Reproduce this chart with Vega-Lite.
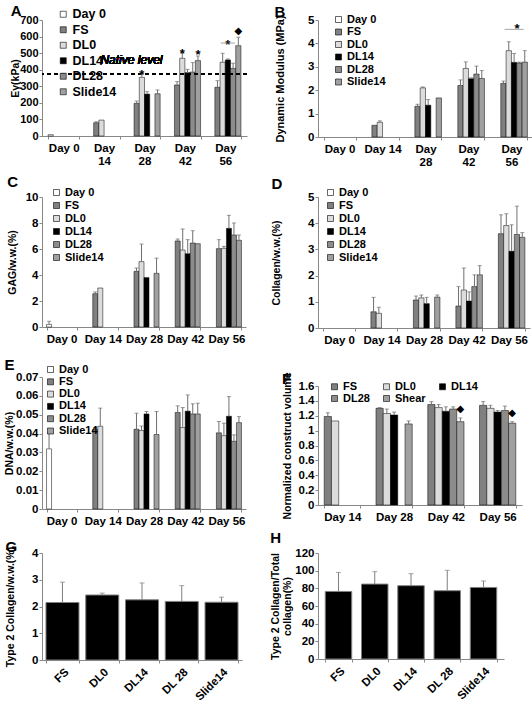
{
"$schema":"https://vega.github.io/schema/vega-lite/v6.json",
"background":"white",
"padding":{"left":4,"top":4,"right":0,"bottom":0},
"spacing":22,
"resolve":{"scale":{"x":"independent","y":"independent","color":"independent","xOffset":"independent"},"legend":{"color":"independent"}},
"datasets":{
"A":[
{"day":"Day 0","grp":"Day 0","v":8,"e":null},
{"day":"Day 14","grp":"FS","v":80,"e":86},
{"day":"Day 14","grp":"DL0","v":96,"e":null},
{"day":"Day 28","grp":"FS","v":197,"e":211},
{"day":"Day 28","grp":"DL0","v":354,"e":374},
{"day":"Day 28","grp":"DL14","v":253,"e":268},
{"day":"Day 28","grp":"Slide14","v":255,"e":278},
{"day":"Day 42","grp":"FS","v":308,"e":328},
{"day":"Day 42","grp":"DL0","v":469,"e":503},
{"day":"Day 42","grp":"DL14","v":382,"e":402},
{"day":"Day 42","grp":"DL28","v":386,"e":443},
{"day":"Day 42","grp":"Slide14","v":455,"e":483},
{"day":"Day 56","grp":"FS","v":294,"e":334},
{"day":"Day 56","grp":"DL0","v":445,"e":499},
{"day":"Day 56","grp":"DL14","v":459,"e":465},
{"day":"Day 56","grp":"DL28","v":408,"e":439},
{"day":"Day 56","grp":"Slide14","v":545,"e":596}],
"Astar":[
{"day":"Day 28","grp":"DL0","y":371,"t":"*"},
{"day":"Day 42","grp":"DL0","y":492,"t":"*"},
{"day":"Day 42","grp":"Slide14","y":486,"t":"*"},
{"day":"Day 56","grp":"DL14","y":552,"t":"*"}],
"Adia":[{"day":"Day 56","grp":"Slide14","y":634,"t":"◆"}],
"Aline":[{"day":"Day 56","grp":"DL14","y":561}],
"B":[
{"day":"Day 14","grp":"FS","v":0.5,"e":null},
{"day":"Day 14","grp":"DL0","v":0.63,"e":0.69},
{"day":"Day 28","grp":"FS","v":1.31,"e":1.4},
{"day":"Day 28","grp":"DL0","v":2.1,"e":2.14},
{"day":"Day 28","grp":"DL14","v":1.36,"e":1.6},
{"day":"Day 28","grp":"Slide14","v":1.67,"e":null},
{"day":"Day 42","grp":"FS","v":2.2,"e":2.44},
{"day":"Day 42","grp":"DL0","v":2.93,"e":3.21},
{"day":"Day 42","grp":"DL14","v":2.49,"e":2.53},
{"day":"Day 42","grp":"DL28","v":2.69,"e":3.03},
{"day":"Day 42","grp":"Slide14","v":2.5,"e":2.84},
{"day":"Day 56","grp":"FS","v":2.29,"e":2.39},
{"day":"Day 56","grp":"DL0","v":3.69,"e":4.07},
{"day":"Day 56","grp":"DL14","v":3.19,"e":3.57},
{"day":"Day 56","grp":"DL28","v":3.16,"e":3.2},
{"day":"Day 56","grp":"Slide14","v":3.2,"e":3.69}],
"Bstar":[{"day":"Day 56","grp":"DL14","y":4.63,"t":"*"}],
"Bline":[{"day":"Day 56","grp":"DL14","y":4.6}],
"C":[
{"day":"Day 0","grp":"Day 0","v":0.2,"e":0.44},
{"day":"Day 14","grp":"FS","v":2.56,"e":2.7},
{"day":"Day 14","grp":"DL0","v":3.0,"e":null},
{"day":"Day 28","grp":"FS","v":4.28,"e":4.54},
{"day":"Day 28","grp":"DL0","v":5.03,"e":6.38},
{"day":"Day 28","grp":"DL14","v":3.8,"e":null},
{"day":"Day 28","grp":"Slide14","v":4.13,"e":5.3},
{"day":"Day 42","grp":"FS","v":6.62,"e":6.77},
{"day":"Day 42","grp":"DL0","v":5.92,"e":7.54},
{"day":"Day 42","grp":"DL14","v":5.64,"e":6.72},
{"day":"Day 42","grp":"DL28","v":6.46,"e":7.41},
{"day":"Day 42","grp":"Slide14","v":6.41,"e":null},
{"day":"Day 56","grp":"FS","v":6.03,"e":6.72},
{"day":"Day 56","grp":"DL0","v":6.05,"e":6.2},
{"day":"Day 56","grp":"DL14","v":7.59,"e":8.59},
{"day":"Day 56","grp":"DL28","v":7.08,"e":8.0},
{"day":"Day 56","grp":"Slide14","v":6.67,"e":7.08}],
"D":[
{"day":"Day 14","grp":"FS","v":0.62,"e":1.17},
{"day":"Day 14","grp":"DL0","v":0.56,"e":0.79},
{"day":"Day 28","grp":"FS","v":1.07,"e":1.22},
{"day":"Day 28","grp":"DL0","v":1.15,"e":1.26},
{"day":"Day 28","grp":"DL14","v":0.93,"e":1.17},
{"day":"Day 28","grp":"Slide14","v":1.18,"e":1.26},
{"day":"Day 42","grp":"FS","v":0.84,"e":1.58},
{"day":"Day 42","grp":"DL0","v":1.45,"e":2.29},
{"day":"Day 42","grp":"DL14","v":1.03,"e":1.38},
{"day":"Day 42","grp":"DL28","v":1.58,"e":2.03},
{"day":"Day 42","grp":"Slide14","v":2.03,"e":2.38},
{"day":"Day 56","grp":"FS","v":3.6,"e":4.32},
{"day":"Day 56","grp":"DL0","v":3.91,"e":4.36},
{"day":"Day 56","grp":"DL14","v":2.93,"e":3.94},
{"day":"Day 56","grp":"DL28","v":3.57,"e":4.65},
{"day":"Day 56","grp":"Slide14","v":3.46,"e":3.64}],
"E":[
{"day":"Day 0","grp":"Day 0","v":0.0319,"e":0.040},
{"day":"Day 14","grp":"FS","v":0.0423,"e":0.0432},
{"day":"Day 14","grp":"DL0","v":0.0439,"e":0.0535},
{"day":"Day 28","grp":"FS","v":0.0423,"e":0.0508},
{"day":"Day 28","grp":"DL0","v":0.0416,"e":0.044},
{"day":"Day 28","grp":"DL14","v":0.0504,"e":0.0517},
{"day":"Day 28","grp":"Slide14","v":0.0395,"e":0.0517},
{"day":"Day 42","grp":"FS","v":0.0512,"e":0.0547},
{"day":"Day 42","grp":"DL0","v":0.0432,"e":0.0538},
{"day":"Day 42","grp":"DL14","v":0.0519,"e":0.0605},
{"day":"Day 42","grp":"DL28","v":0.0504,"e":0.0558},
{"day":"Day 42","grp":"Slide14","v":0.0504,"e":0.0561},
{"day":"Day 56","grp":"FS","v":0.0404,"e":0.0464},
{"day":"Day 56","grp":"DL0","v":0.0389,"e":0.0455},
{"day":"Day 56","grp":"DL14","v":0.0492,"e":0.0596},
{"day":"Day 56","grp":"DL28","v":0.0359,"e":0.0393},
{"day":"Day 56","grp":"Slide14","v":0.0458,"e":0.049}],
"F":[
{"day":"Day 14","grp":"FS","v":1.19,"e":1.24},
{"day":"Day 14","grp":"DL0","v":1.13,"e":null},
{"day":"Day 28","grp":"FS","v":1.3,"e":1.31},
{"day":"Day 28","grp":"DL0","v":1.23,"e":1.29},
{"day":"Day 28","grp":"DL14","v":1.21,"e":1.25},
{"day":"Day 28","grp":"Shear","v":1.09,"e":1.13},
{"day":"Day 42","grp":"FS","v":1.35,"e":1.39},
{"day":"Day 42","grp":"DL0","v":1.31,"e":1.35},
{"day":"Day 42","grp":"DL14","v":1.26,"e":1.32},
{"day":"Day 42","grp":"DL28","v":1.29,"e":1.32},
{"day":"Day 42","grp":"Shear","v":1.12,"e":1.17},
{"day":"Day 56","grp":"FS","v":1.34,"e":1.39},
{"day":"Day 56","grp":"DL0","v":1.3,"e":1.34},
{"day":"Day 56","grp":"DL14","v":1.25,"e":1.27},
{"day":"Day 56","grp":"DL28","v":1.27,"e":1.33},
{"day":"Day 56","grp":"Shear","v":1.1,"e":1.12}],
"Fdia":[{"day":"Day 42","grp":"Shear","y":1.29,"t":"◆"},{"day":"Day 56","grp":"Shear","y":1.24,"t":"◆"}],
"G":[
{"cat":"FS","v":2.15,"e":2.91},
{"cat":"DL0","v":2.43,"e":2.5},
{"cat":"DL14","v":2.25,"e":2.88},
{"cat":"DL 28","v":2.19,"e":2.78},
{"cat":"Slide14","v":2.16,"e":2.35}],
"H":[
{"cat":"FS","v":76.5,"e":98},
{"cat":"DL0","v":84.8,"e":98.9},
{"cat":"DL14","v":83,"e":96.6},
{"cat":"DL 28","v":77.3,"e":100.4},
{"cat":"Slide14","v":81,"e":88.3}]
},
"hconcat":[
{"vconcat":[
{"title":{"text":"A","offset":-11},"width":205,"height":116,"data":{"name":"A"},
"layer":[
{"mark":{"type":"bar","stroke":"#000","strokeWidth":0.5},
"encoding":{
"x":{"field":"day","type":"nominal","sort":null,"scale":{"domain":["Day 0","Day 14","Day 28","Day 42","Day 56"],"paddingInner":0.225,"paddingOuter":0.15},"axis":{"title":null,"labelExpr":"isValid(datum.value) ? (datum.value == 'Day 0' ? datum.value : split(datum.value, ' ')) : ''"}},
"xOffset":{"field":"grp","type":"nominal","scale":{"domain":["Day 0","FS","DL0","DL14","DL28","Slide14"],"paddingInner":0,"paddingOuter":0}},
"y":{"field":"v","type":"quantitative","scale":{"domain":[0,700],"nice":false},"axis":{"title":"Eγ(kPa)","values":[0,100,200,300,400,500,600,700],"tickCount":50,"format":"d","labelFontSize":11,"titlePadding":-1}},
"color":{"field":"grp","type":"nominal","scale":{"domain":["Day 0","FS","DL0","DL14","DL28","Slide14"],"range":["#ffffff","#808080","#dcdcdc","#000000","#8c8c8c","#a0a0a0"]},"legend":{"orient":"none","legendX":15,"legendY":-12,"labelFontSize":12.5,"rowPadding":2.5}}}},
{"mark":{"type":"rule","strokeDash":[4,3],"strokeWidth":1.2,"color":"#000"},"encoding":{"y":{"datum":374}}},
{"transform":[{"filter":"datum.e != null"}],"mark":{"type":"rule","color":"#6f6f6f"},"encoding":{"x":{"field":"day","type":"nominal"},"xOffset":{"field":"grp","type":"nominal"},"y":{"field":"v","type":"quantitative"},"y2":{"field":"e"}}},
{"transform":[{"filter":"datum.e != null"}],"mark":{"type":"tick","color":"#6f6f6f","thickness":1,"size":4},"encoding":{"x":{"field":"day","type":"nominal"},"xOffset":{"field":"grp","type":"nominal"},"y":{"field":"e","type":"quantitative"}}},
{"mark":{"type":"text","fontStyle":"italic","fontSize":12},"encoding":{"x":{"datum":"Day 28"},"xOffset":{"datum":"Day 0"},"y":{"datum":459},"text":{"value":"Native level"}}},
{"data":{"name":"Astar"},"mark":{"type":"text","fontSize":13,"fontWeight":"bold"},"encoding":{"x":{"field":"day","type":"nominal"},"xOffset":{"field":"grp","type":"nominal"},"y":{"field":"y","type":"quantitative"},"text":{"field":"t"}}},
{"data":{"name":"Adia"},"mark":{"type":"text","fontSize":10,"font":"DejaVu Sans","baseline":"middle"},"encoding":{"x":{"field":"day","type":"nominal"},"xOffset":{"field":"grp","type":"nominal"},"y":{"field":"y","type":"quantitative"},"text":{"field":"t"}}},
{"data":{"name":"Aline"},"mark":{"type":"tick","color":"#7f7f7f","thickness":1,"size":14},"encoding":{"x":{"field":"day","type":"nominal"},"xOffset":{"field":"grp","type":"nominal"},"y":{"field":"y","type":"quantitative"}}}
]},
{"title":{"text":"C","offset":-3},"width":204,"height":130,"data":{"name":"C"},
"layer":[
{"mark":{"type":"bar","stroke":"#000","strokeWidth":0.5},
"encoding":{
"x":{"field":"day","type":"nominal","sort":null,"scale":{"domain":["Day 0","Day 14","Day 28","Day 42","Day 56"],"paddingInner":0.27,"paddingOuter":0.11},"axis":{"title":" ","titleFontSize":5,"titlePadding":0}},
"xOffset":{"field":"grp","type":"nominal","scale":{"domain":["Day 0","FS","DL0","DL14","DL28","Slide14"],"paddingInner":0,"paddingOuter":0}},
"y":{"field":"v","type":"quantitative","scale":{"domain":[0,10],"nice":false},"axis":{"title":"GAG/w.w.(%)","values":[0,2,4,6,8,10],"tickCount":50,"format":"d","titlePadding":8}},
"color":{"field":"grp","type":"nominal","scale":{"domain":["Day 0","FS","DL0","DL14","DL28","Slide14"],"range":["#ffffff","#808080","#dcdcdc","#000000","#8c8c8c","#a0a0a0"]},"legend":{"orient":"none","legendX":9,"legendY":-10}}}},
{"transform":[{"filter":"datum.e != null"}],"mark":{"type":"rule","color":"#6f6f6f"},"encoding":{"x":{"field":"day","type":"nominal"},"xOffset":{"field":"grp","type":"nominal"},"y":{"field":"v","type":"quantitative"},"y2":{"field":"e"}}},
{"transform":[{"filter":"datum.e != null"}],"mark":{"type":"tick","color":"#6f6f6f","thickness":1,"size":4},"encoding":{"x":{"field":"day","type":"nominal"},"xOffset":{"field":"grp","type":"nominal"},"y":{"field":"e","type":"quantitative"}}}
]},
{"title":{"text":"E","offset":-5,"dy":4},"width":204,"height":132,"data":{"name":"E"},
"layer":[
{"mark":{"type":"bar","stroke":"#000","strokeWidth":0.5},
"encoding":{
"x":{"field":"day","type":"nominal","sort":null,"scale":{"domain":["Day 0","Day 14","Day 28","Day 42","Day 56"],"paddingInner":0.27,"paddingOuter":0.11},"axis":{"title":" ","titleFontSize":5,"titlePadding":0}},
"xOffset":{"field":"grp","type":"nominal","scale":{"domain":["Day 0","FS","DL0","DL14","DL28","Slide14"],"paddingInner":0,"paddingOuter":0}},
"y":{"field":"v","type":"quantitative","scale":{"domain":[0,0.07],"nice":false},"axis":{"title":"DNA/w.w.(%)","values":[0,0.01,0.02,0.03,0.04,0.05,0.06,0.07],"tickCount":50,"format":"~g","titlePadding":1}},
"color":{"field":"grp","type":"nominal","scale":{"domain":["Day 0","FS","DL0","DL14","DL28","Slide14"],"range":["#ffffff","#808080","#dcdcdc","#000000","#8c8c8c","#a0a0a0"]},"legend":{"orient":"none","legendX":3,"legendY":-13,"rowPadding":0.3}}}},
{"transform":[{"filter":"datum.e != null"}],"mark":{"type":"rule","color":"#6f6f6f"},"encoding":{"x":{"field":"day","type":"nominal"},"xOffset":{"field":"grp","type":"nominal"},"y":{"field":"v","type":"quantitative"},"y2":{"field":"e"}}},
{"transform":[{"filter":"datum.e != null"}],"mark":{"type":"tick","color":"#6f6f6f","thickness":1,"size":4},"encoding":{"x":{"field":"day","type":"nominal"},"xOffset":{"field":"grp","type":"nominal"},"y":{"field":"e","type":"quantitative"}}}
]},
{"title":{"text":"G","offset":-4,"dy":5},"width":200,"height":107,"data":{"name":"G"},
"layer":[
{"mark":{"type":"bar","color":"#000","stroke":"#808080","strokeWidth":1},
"encoding":{
"x":{"field":"cat","type":"nominal","sort":null,"scale":{"domain":["FS","DL0","DL14","DL 28","Slide14"],"paddingInner":0.17,"paddingOuter":0.1},"axis":{"title":null,"labelAngle":-45}},
"y":{"field":"v","type":"quantitative","scale":{"domain":[0,4],"nice":false},"axis":{"title":"Type 2 Collagen/w.w.(%)","values":[0,1,2,3,4],"tickCount":50,"format":"d","titlePadding":16}}}},
{"mark":{"type":"rule","color":"#7f7f7f"},"encoding":{"x":{"field":"cat","type":"nominal"},"y":{"field":"v","type":"quantitative"},"y2":{"field":"e"}}},
{"mark":{"type":"tick","color":"#7f7f7f","thickness":1,"size":5},"encoding":{"x":{"field":"cat","type":"nominal"},"y":{"field":"e","type":"quantitative"}}}
]}
],"spacing":8,"resolve":{"scale":{"x":"independent","y":"independent","color":"independent","xOffset":"independent"},"legend":{"color":"independent"}}},
{"vconcat":[
{"title":{"text":"B","offset":-5.5},"width":215,"height":117,"data":{"name":"B"},
"layer":[
{"mark":{"type":"bar","stroke":"#000","strokeWidth":0.5},
"encoding":{
"x":{"field":"day","type":"nominal","sort":null,"scale":{"domain":["Day 0","Day 14","Day 28","Day 42","Day 56"],"paddingInner":0.256,"paddingOuter":0.13},"axis":{"title":null,"labelExpr":"isValid(datum.value) ? ((datum.value == 'Day 0' || datum.value == 'Day 14') ? datum.value : split(datum.value, ' ')) : ''"}},
"xOffset":{"field":"grp","type":"nominal","scale":{"domain":["Day 0","FS","DL0","DL14","DL28","Slide14"],"paddingInner":0,"paddingOuter":0}},
"y":{"field":"v","type":"quantitative","scale":{"domain":[0,5],"nice":false},"axis":{"title":"Dynamic Modulus (MPa)","values":[0,1,2,3,4,5],"tickCount":50,"format":"d","titlePadding":22,"titleFontSize":11}},
"color":{"field":"grp","type":"nominal","scale":{"domain":["Day 0","FS","DL0","DL14","DL28","Slide14"],"range":["#ffffff","#808080","#dcdcdc","#000000","#8c8c8c","#a0a0a0"]},"legend":{"orient":"none","legendX":15,"legendY":-6,"rowPadding":0.5}}}},
{"transform":[{"filter":"datum.e != null"}],"mark":{"type":"rule","color":"#6f6f6f"},"encoding":{"x":{"field":"day","type":"nominal"},"xOffset":{"field":"grp","type":"nominal"},"y":{"field":"v","type":"quantitative"},"y2":{"field":"e"}}},
{"transform":[{"filter":"datum.e != null"}],"mark":{"type":"tick","color":"#6f6f6f","thickness":1,"size":4},"encoding":{"x":{"field":"day","type":"nominal"},"xOffset":{"field":"grp","type":"nominal"},"y":{"field":"e","type":"quantitative"}}},
{"data":{"name":"Bstar"},"mark":{"type":"text","fontSize":13,"fontWeight":"bold","dx":3},"encoding":{"x":{"field":"day","type":"nominal"},"xOffset":{"field":"grp","type":"nominal"},"y":{"field":"y","type":"quantitative"},"text":{"field":"t"}}},
{"data":{"name":"Bline"},"mark":{"type":"tick","color":"#7f7f7f","thickness":1,"size":19},"encoding":{"x":{"field":"day","type":"nominal"},"xOffset":{"field":"grp","type":"nominal"},"y":{"field":"y","type":"quantitative"}}}
]},
{"title":{"text":"D","offset":-4.5},"width":212,"height":131,"data":{"name":"D"},
"layer":[
{"mark":{"type":"bar","stroke":"#000","strokeWidth":0.5},
"encoding":{
"x":{"field":"day","type":"nominal","sort":null,"scale":{"domain":["Day 0","Day 14","Day 28","Day 42","Day 56"],"paddingInner":0.25,"paddingOuter":0.12},"axis":{"title":null}},
"xOffset":{"field":"grp","type":"nominal","scale":{"domain":["Day 0","FS","DL0","DL14","DL28","Slide14"],"paddingInner":0,"paddingOuter":0}},
"y":{"field":"v","type":"quantitative","scale":{"domain":[0,5],"nice":false},"axis":{"title":"Collagen/w.w.(%)","values":[0,1,2,3,4,5],"tickCount":50,"format":"d","titlePadding":26}},
"color":{"field":"grp","type":"nominal","scale":{"domain":["Day 0","FS","DL0","DL14","DL28","Slide14"],"range":["#ffffff","#808080","#dcdcdc","#000000","#8c8c8c","#a0a0a0"]},"legend":{"orient":"none","legendX":7,"legendY":-10}}}},
{"transform":[{"filter":"datum.e != null"}],"mark":{"type":"rule","color":"#6f6f6f"},"encoding":{"x":{"field":"day","type":"nominal"},"xOffset":{"field":"grp","type":"nominal"},"y":{"field":"v","type":"quantitative"},"y2":{"field":"e"}}},
{"transform":[{"filter":"datum.e != null"}],"mark":{"type":"tick","color":"#6f6f6f","thickness":1,"size":4},"encoding":{"x":{"field":"day","type":"nominal"},"xOffset":{"field":"grp","type":"nominal"},"y":{"field":"e","type":"quantitative"}}}
]},
{"title":{"text":["","F"],"lineHeight":17,"offset":-15},"width":204,"height":119,"data":{"name":"F"},
"layer":[
{"mark":{"type":"bar","stroke":"#000","strokeWidth":0.5},
"encoding":{
"x":{"field":"day","type":"nominal","sort":null,"scale":{"domain":["Day 14","Day 28","Day 42","Day 56"],"paddingInner":0.3,"paddingOuter":0.12},"axis":{"title":null}},
"xOffset":{"field":"grp","type":"nominal","scale":{"domain":["FS","DL0","DL14","DL28","Shear"],"paddingInner":0,"paddingOuter":0}},
"y":{"field":"v","type":"quantitative","scale":{"domain":[0,1.6],"nice":false},"axis":{"title":"Normalized construct volume","values":[0,0.2,0.4,0.6,0.8,1,1.2,1.4,1.6],"tickCount":50,"format":"~g","titlePadding":6}},
"color":{"field":"grp","type":"nominal","scale":{"domain":["FS","DL0","DL14","DL28","Shear"],"range":["#808080","#dcdcdc","#000000","#8c8c8c","#a0a0a0"]},"legend":{"orient":"none","legendX":11,"legendY":-5,"columns":3,"direction":"horizontal","columnPadding":11,"rowPadding":0}}}},
{"transform":[{"filter":"datum.e != null"}],"mark":{"type":"rule","color":"#6f6f6f"},"encoding":{"x":{"field":"day","type":"nominal"},"xOffset":{"field":"grp","type":"nominal"},"y":{"field":"v","type":"quantitative"},"y2":{"field":"e"}}},
{"transform":[{"filter":"datum.e != null"}],"mark":{"type":"tick","color":"#6f6f6f","thickness":1,"size":4},"encoding":{"x":{"field":"day","type":"nominal"},"xOffset":{"field":"grp","type":"nominal"},"y":{"field":"e","type":"quantitative"}}},
{"data":{"name":"Fdia"},"mark":{"type":"text","fontSize":10,"font":"DejaVu Sans","baseline":"middle"},"encoding":{"x":{"field":"day","type":"nominal"},"xOffset":{"field":"grp","type":"nominal"},"y":{"field":"y","type":"quantitative"},"text":{"field":"t"}}}
]},
{"title":{"text":"H","offset":-1,"dy":-2},"width":186,"height":106,"data":{"name":"H"},
"layer":[
{"mark":{"type":"bar","color":"#000","stroke":"#808080","strokeWidth":1},
"encoding":{
"x":{"field":"cat","type":"nominal","sort":null,"scale":{"domain":["FS","DL0","DL14","DL 28","Slide14"],"paddingInner":0.27,"paddingOuter":0.2},"axis":{"title":null,"labelAngle":-45}},
"y":{"field":"v","type":"quantitative","scale":{"domain":[0,120],"nice":false},"axis":{"title":["Type 2 Collagen/Total","collagen(%)"],"values":[0,20,40,60,80,100,120],"tickCount":50,"format":"d","titlePadding":2}}}},
{"mark":{"type":"rule","color":"#7f7f7f"},"encoding":{"x":{"field":"cat","type":"nominal"},"y":{"field":"v","type":"quantitative"},"y2":{"field":"e"}}},
{"mark":{"type":"tick","color":"#7f7f7f","thickness":1,"size":5},"encoding":{"x":{"field":"cat","type":"nominal"},"y":{"field":"e","type":"quantitative"}}}
]}
],"spacing":8,"resolve":{"scale":{"x":"independent","y":"independent","color":"independent","xOffset":"independent"},"legend":{"color":"independent"}}}
],
"config":{
"font":"Liberation Sans",
"view":{"stroke":null},
"title":{"anchor":"start","frame":"bounds","fontSize":15,"fontWeight":"bold","font":"Liberation Sans","offset":2,"color":"#000"},
"axis":{"labelFont":"Liberation Sans","titleFont":"Liberation Sans","labelFontWeight":"bold","titleFontWeight":"bold","labelFontSize":11.5,"titleFontSize":10.5,"labelColor":"#000","titleColor":"#000","domainColor":"#888","tickColor":"#888","tickSize":3,"labelPadding":1,"grid":false,"labelOverlap":false},
"axisX":{"tickBand":"extent","labelAngle":0,"labelPadding":3,"labelLineHeight":13},
"legend":{"title":null,"symbolType":"square","symbolSize":36,"symbolStrokeColor":"#000","symbolStrokeWidth":0.6,"labelFont":"Liberation Sans","labelFontWeight":"bold","labelFontSize":11,"labelColor":"#000","labelOffset":3,"rowPadding":1,"padding":0}
}
}
